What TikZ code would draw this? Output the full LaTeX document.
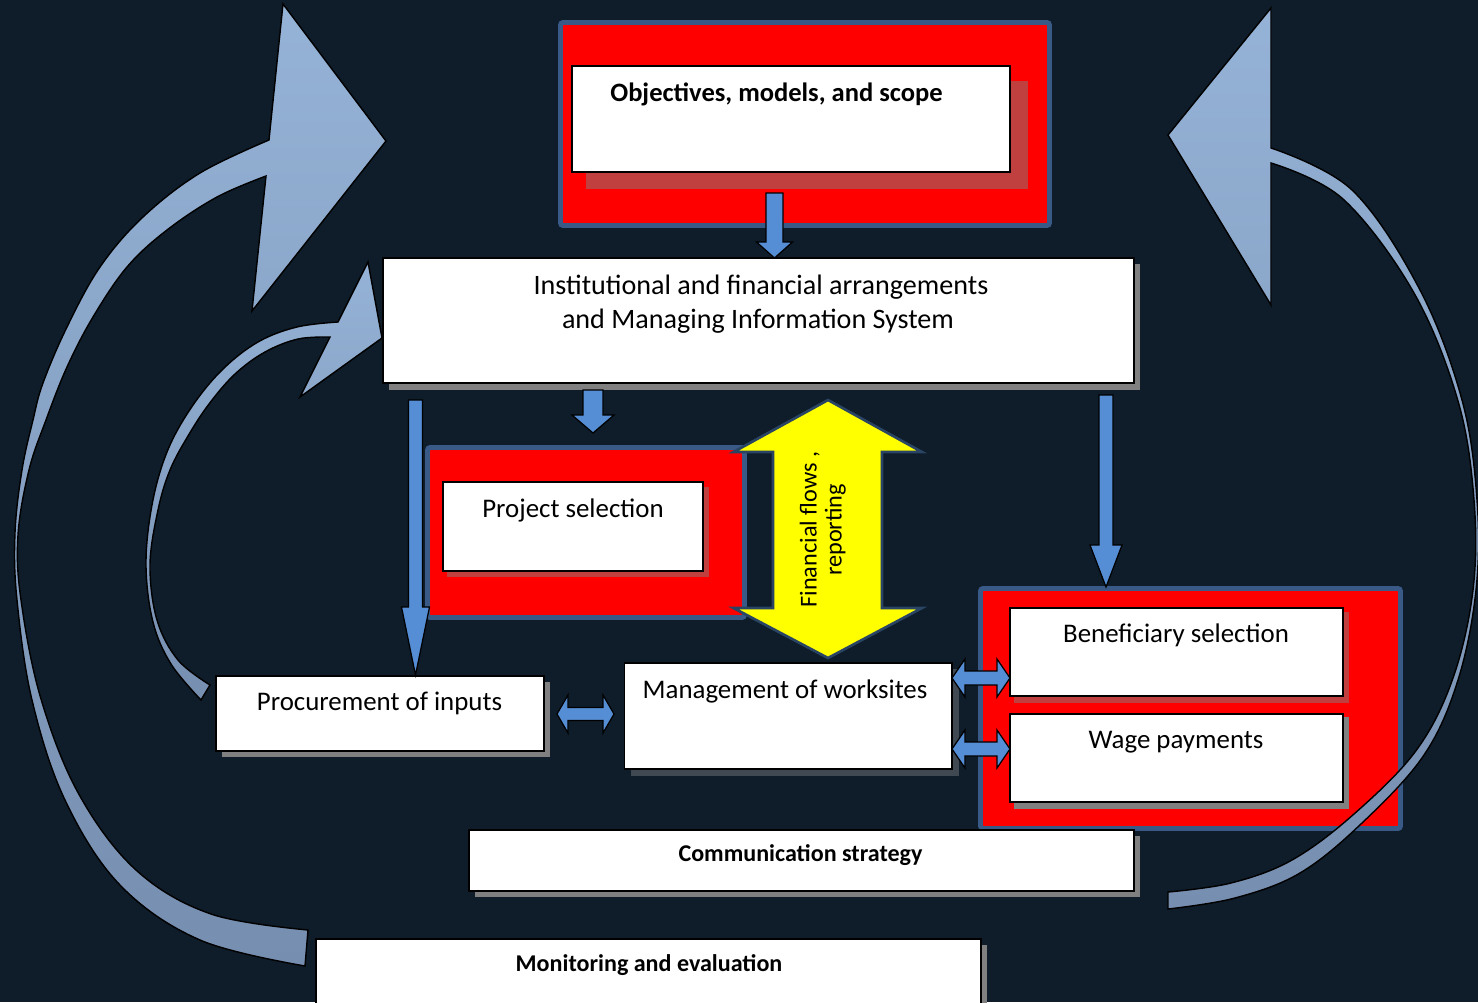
\documentclass[tikz,border=0pt]{standalone}
\usepackage{fontspec}
\setmainfont{Carlito}
\definecolor{bg}{RGB}{14,29,41}
\definecolor{frameblue}{RGB}{57,90,135}
\definecolor{arrblue}{RGB}{85,142,213}
\definecolor{shadred}{RGB}{192,64,64}
\definecolor{shadgray}{RGB}{128,128,128}
\definecolor{shaddark}{RGB}{64,72,82}
\definecolor{ylw}{RGB}{255,255,0}
\definecolor{ylwedge}{RGB}{42,68,100}
\definecolor{arclight}{RGB}{149,179,215}
\definecolor{arcdark}{RGB}{118,142,175}
\newcommand\vblk[6]{\draw[blockarrow] (#1-#4,#2) -- (#1-#4,#3-#6) -- (#1-#5,#3-#6) -- (#1,#3) -- (#1+#5,#3-#6) -- (#1+#4,#3-#6) -- (#1+#4,#2) -- cycle;}
\newcommand\hdbl[6]{\draw[blockarrow] (#1,#3) -- (#1+#6,#3-#5) -- (#1+#6,#3-#4) -- (#2-#6,#3-#4) -- (#2-#6,#3-#5) -- (#2,#3) -- (#2-#6,#3+#5) -- (#2-#6,#3+#4) -- (#1+#6,#3+#4) -- (#1+#6,#3+#5) -- cycle;}
\begin{document}
\begin{tikzpicture}[x=0.02cm,y=-0.02cm,
  redframe/.style={fill=red,draw=frameblue,line width=2.8pt,rounded corners=1.5pt},
  whitebox/.style={fill=white,draw=black,line width=1.1pt},
  blockarrow/.style={fill=arrblue,draw=black,line width=0.7pt},
  arcarrow/.style={draw=black,line width=0.8pt,top color=arclight,bottom color=arcdark},
  txt/.style={inner sep=0pt,anchor=base,font=\fontsize{15.3}{18}\selectfont},
  btxt/.style={inner sep=0pt,anchor=base,font=\fontsize{13.7}{16}\selectfont\bfseries}]
\useasboundingbox (0,0) rectangle (1478,1002);
\fill[bg] (0,0) rectangle (1478,1002);

% top group
\draw[redframe] (560.5,22.5) rectangle (1049.5,225.5);
\fill[shadred] (586,81) rectangle (1028,189);
\draw[whitebox] (572,66) rectangle (1010,172);
\node[btxt,font=\fontsize{15.1}{18}\selectfont\bfseries] (objT) at (776.5,101) {Objectives, models, and scope};

% institutional
\fill[shadgray] (389,264) rectangle (1140,390);
\draw[whitebox] (383,258) rectangle (1134,383);
\node[txt,font=\fontsize{16}{19}\selectfont] (inst1) at (761,294) {Institutional and financial arrangements};
\node[txt,font=\fontsize{16}{19}\selectfont] (inst2) at (758,328) {and Managing Information System};

% project selection
\draw[redframe] (427.5,447.5) rectangle (744.5,617.5);
\fill[shadred] (447,487) rectangle (709,577);
\draw[whitebox] (443,482) rectangle (703,571);
\node[txt] (projT) at (573,517.5) {Project selection};

% yellow double arrow
\draw[fill=ylw,draw=ylwedge,line width=1.5pt] (828,400) -- (922,452) -- (882,452) -- (882,608) -- (922,608) -- (828,658) -- (733.5,608) -- (773,608) -- (773,452) -- (733.5,452) -- cycle;
\node[txt,rotate=90,font=\fontsize{13.8}{16}\selectfont] (fin1) at (816.7,529.5) {Financial flows ,};
\node[txt,rotate=90,font=\fontsize{13.8}{16}\selectfont] (fin2) at (841.7,530) {reporting};

% right group
\draw[redframe] (980.5,588.5) rectangle (1400.5,828.5);
\fill[shadred] (1014,612) rectangle (1349,703);
\draw[whitebox] (1010,608) rectangle (1343,696);
\node[txt] (benT) at (1176,642.5) {Beneficiary selection};
\fill[shadgray] (1014,717) rectangle (1349,809);
\draw[whitebox] (1010,714) rectangle (1343,802);
\node[txt] (wageT) at (1176,748) {Wage payments};

% procurement
\fill[shadgray] (222,682) rectangle (550,757);
\draw[whitebox] (216,676) rectangle (544,751);
\node[txt] (procT) at (379.5,710) {Procurement of inputs};

% management
\fill[shaddark] (631,669) rectangle (959,776);
\draw[whitebox] (624.5,663) rectangle (952,769);
\node[txt] (mgmtT) at (785,698) {Management of worksites};

% communication
\fill[shadgray] (475,836) rectangle (1140,897);
\draw[whitebox] (469,830) rectangle (1134,891);
\node[btxt] (commT) at (800.5,861) {Communication strategy};

% monitoring
\fill[shadgray] (322,945) rectangle (987,1012);
\draw[whitebox] (316,939) rectangle (981,1012);
\node[btxt] (monT) at (649,971.5) {Monitoring and evaluation};

% block arrows
\vblk{774.5}{193}{258}{8.5}{18}{16}
\vblk{593}{390}{433}{10}{21}{18}
\vblk{415.5}{400}{675}{7}{14}{68}
\vblk{1106}{395}{587}{7}{16}{42}
\hdbl{557}{614}{714}{6.5}{19}{11}
\hdbl{952}{1010}{678}{7}{19}{13}
\hdbl{952}{1010}{749}{7}{19}{13}

% big left curved arrow
\draw[arcarrow] plot[smooth,tension=0.6] coordinates {(305,966) (200,940) (120,885) (65,800) (32,700) (17,600) (15,533) (22,470) (33,420) (43,383) (67,327) (100,267) (143,217) (200,173) (269,140)}
  -- (283,4) -- (386,141) -- (252,311) -- (266,176)
  -- plot[smooth,tension=0.6] coordinates {(266,176) (217,197) (167,230) (127,267) (93,317) (67,367) (46,420) (29,470) (18,535) (21,600) (40.7,698) (78.5,793.5) (136,870) (211,914) (308,930)} -- cycle;

% small left curved arrow
\draw[arcarrow] plot[smooth,tension=0.6] coordinates {(201,700) (171,664) (153,622) (146,565) (152,505) (167,452) (191,408) (222,370) (258,342) (297,327) (338,322)}
  -- (368,262) -- (382,338) -- (300,397) -- (330,337)
  -- plot[smooth,tension=0.6] coordinates {(330,337) (298,339) (265,352) (235,374) (209,404) (188,436) (170,470) (158,510) (150,565) (157,620) (178,660) (210,685)} -- cycle;

% right curved arrow
\draw[arcarrow] plot[smooth,tension=0.6] coordinates {(1168,909) (1235,898) (1300,873) (1362,823) (1424,755) (1458,680) (1476,590) (1477,500) (1462,400) (1420,290) (1352,190) (1271,148)}
  -- (1271,8) -- (1168,135) -- (1271,305) -- (1271,163)
  -- plot[smooth,tension=0.6] coordinates {(1271,163) (1343,199) (1414,293) (1458,401) (1474,500) (1473,590) (1453,678) (1416.5,750) (1354,814) (1292,860) (1231,883) (1168,892)} -- cycle;
\end{tikzpicture}
\end{document}
